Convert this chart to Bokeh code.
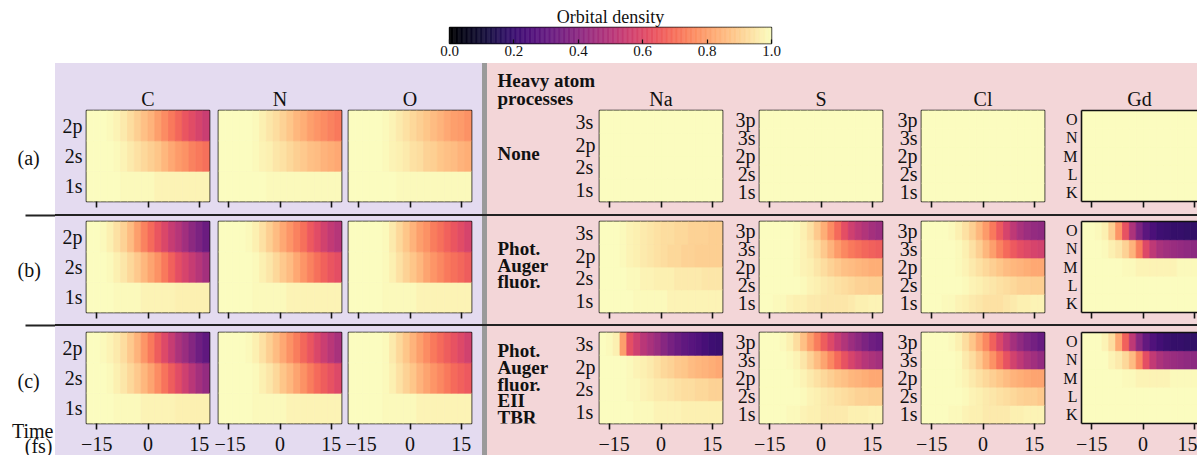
import numpy as np
from bokeh.plotting import figure
from bokeh.models import (Range1d, FixedTicker, LinearColorMapper, Label, Spacer,
                          ColumnDataSource, LinearAxis, PrintfTickFormatter, BoxAnnotation)
from bokeh.layouts import row, column
from bokeh.palettes import Magma256
from bokeh.embed import file_html
from bokeh.resources import INLINE

# ---------------- data ----------------
time_edges = [-18, -16, -14, -12, -10, -8, -6, -4, -2, 0, 2, 4, 6, 8, 10, 12, 14, 16, 18]
x_ticks = [-15, 0, 15]
x_tick_labels = {-15: "\u221215", 0: "0", 15: "15"}
cbar_ticks = [0.0, 0.2, 0.4, 0.6, 0.8, 1.0]

light_orbitals = ["1s", "2s", "2p"]
na_orbitals = ["1s", "2s", "2p", "3s"]
scl_orbitals = ["1s", "2s", "2p", "3s", "3p"]
gd_shells = ["K", "L", "M", "N", "O"]

light_atoms = ["C", "N", "O"]
heavy_atoms = ["Na", "S", "Cl", "Gd"]
row_tags = ["(a)", "(b)", "(c)"]
process_labels = [["None"], ["Phot.", "Auger", "fluor."], ["Phot.", "Auger", "fluor.", "EII", "TBR"]]

ONE = [1.00, 1.00, 1.00, 1.00, 1.00, 1.00, 1.00, 1.00, 1.00, 1.00, 1.00, 1.00, 1.00, 1.00, 1.00, 1.00, 1.00, 1.00]

# row (a)
C_a = [[1.00, 1.00, 1.00, 1.00, 1.00, 0.99, 0.99, 0.99, 0.99, 0.99, 0.98, 0.98, 0.98, 0.98, 0.98, 0.98, 0.98, 0.98],
       [1.00, 1.00, 1.00, 1.00, 0.99, 0.98, 0.96, 0.94, 0.92, 0.90, 0.88, 0.85, 0.82, 0.79, 0.77, 0.74, 0.72, 0.70],
       [1.00, 1.00, 1.00, 0.99, 0.98, 0.96, 0.93, 0.90, 0.87, 0.84, 0.80, 0.76, 0.72, 0.68, 0.64, 0.61, 0.58, 0.55]]
N_a = [[1.00, 1.00, 1.00, 1.00, 1.00, 1.00, 1.00, 0.99, 0.99, 0.99, 0.99, 0.99, 0.99, 0.99, 0.99, 0.99, 0.99, 0.99],
       [1.00, 1.00, 1.00, 1.00, 1.00, 0.99, 0.98, 0.97, 0.95, 0.94, 0.92, 0.90, 0.89, 0.87, 0.86, 0.84, 0.83, 0.82],
       [1.00, 1.00, 1.00, 1.00, 1.00, 0.99, 0.97, 0.95, 0.93, 0.91, 0.88, 0.85, 0.83, 0.80, 0.78, 0.76, 0.74, 0.72]]
O_a = [[1.00, 1.00, 1.00, 1.00, 1.00, 1.00, 1.00, 0.99, 0.99, 0.99, 0.99, 0.99, 0.99, 0.99, 0.99, 0.99, 0.99, 0.99],
       [1.00, 1.00, 1.00, 1.00, 1.00, 0.99, 0.98, 0.97, 0.96, 0.94, 0.93, 0.91, 0.90, 0.88, 0.87, 0.86, 0.84, 0.83],
       [1.00, 1.00, 1.00, 1.00, 1.00, 0.99, 0.98, 0.96, 0.94, 0.92, 0.90, 0.88, 0.86, 0.84, 0.82, 0.80, 0.79, 0.77]]
Na_a = [ONE, ONE, ONE, ONE]
S_a = [ONE, ONE, ONE, ONE, ONE]
Cl_a = [ONE, ONE, ONE, ONE, ONE]
Gd_a = [ONE, ONE, ONE, ONE, ONE]

# row (b)
C_b = [[1.00, 1.00, 1.00, 1.00, 0.99, 0.99, 0.99, 0.99, 0.98, 0.98, 0.98, 0.98, 0.98, 0.97, 0.97, 0.97, 0.97, 0.97],
       [1.00, 1.00, 1.00, 0.99, 0.97, 0.95, 0.92, 0.89, 0.85, 0.81, 0.77, 0.72, 0.67, 0.62, 0.58, 0.54, 0.50, 0.46],
       [1.00, 1.00, 0.99, 0.97, 0.94, 0.91, 0.86, 0.80, 0.74, 0.69, 0.64, 0.59, 0.54, 0.50, 0.45, 0.40, 0.36, 0.32]]
N_b = [[1.00, 1.00, 1.00, 1.00, 1.00, 0.99, 0.99, 0.99, 0.99, 0.99, 0.98, 0.98, 0.98, 0.98, 0.98, 0.98, 0.98, 0.98],
       [1.00, 1.00, 1.00, 1.00, 1.00, 0.99, 0.97, 0.95, 0.92, 0.89, 0.86, 0.82, 0.78, 0.74, 0.70, 0.67, 0.64, 0.62],
       [1.00, 1.00, 1.00, 1.00, 0.99, 0.97, 0.94, 0.90, 0.86, 0.82, 0.78, 0.74, 0.70, 0.65, 0.61, 0.57, 0.53, 0.50]]
O_b = [[1.00, 1.00, 1.00, 1.00, 1.00, 0.99, 0.99, 0.99, 0.99, 0.99, 0.98, 0.98, 0.98, 0.98, 0.98, 0.98, 0.98, 0.98],
       [1.00, 1.00, 1.00, 1.00, 1.00, 0.99, 0.97, 0.94, 0.91, 0.88, 0.85, 0.81, 0.78, 0.75, 0.72, 0.70, 0.68, 0.66],
       [1.00, 1.00, 1.00, 1.00, 1.00, 0.99, 0.96, 0.92, 0.88, 0.84, 0.80, 0.77, 0.73, 0.70, 0.67, 0.64, 0.61, 0.58]]
Na_b = [[1.00, 1.00, 1.00, 1.00, 1.00, 0.99, 0.99, 0.99, 0.99, 0.99, 0.98, 0.98, 0.98, 0.98, 0.98, 0.98, 0.98, 0.98],
        [1.00, 1.00, 1.00, 1.00, 0.99, 0.99, 0.98, 0.98, 0.97, 0.97, 0.97, 0.96, 0.96, 0.96, 0.96, 0.95, 0.95, 0.95],
        [1.00, 1.00, 1.00, 0.99, 0.98, 0.97, 0.96, 0.95, 0.94, 0.93, 0.92, 0.92, 0.91, 0.91, 0.90, 0.90, 0.90, 0.90],
        [1.00, 1.00, 1.00, 0.99, 0.98, 0.97, 0.96, 0.95, 0.94, 0.93, 0.93, 0.92, 0.92, 0.91, 0.91, 0.91, 0.90, 0.90]]
S_b = [[1.00, 1.00, 0.99, 0.99, 0.98, 0.97, 0.97, 0.96, 0.96, 0.95, 0.95, 0.95, 0.95, 0.96, 0.97, 0.97, 0.98, 0.98],
       [1.00, 1.00, 1.00, 1.00, 1.00, 1.00, 0.99, 0.98, 0.97, 0.96, 0.95, 0.94, 0.93, 0.92, 0.91, 0.91, 0.90, 0.90],
       [1.00, 1.00, 1.00, 1.00, 1.00, 0.99, 0.98, 0.97, 0.95, 0.93, 0.91, 0.89, 0.87, 0.86, 0.85, 0.84, 0.83, 0.83],
       [1.00, 1.00, 1.00, 1.00, 1.00, 0.99, 0.98, 0.96, 0.93, 0.89, 0.84, 0.79, 0.75, 0.72, 0.70, 0.68, 0.67, 0.66],
       [1.00, 1.00, 1.00, 1.00, 1.00, 0.99, 0.97, 0.94, 0.89, 0.83, 0.76, 0.69, 0.62, 0.56, 0.52, 0.49, 0.46, 0.44]]
Cl_b = [[1.00, 1.00, 1.00, 0.99, 0.99, 0.98, 0.97, 0.96, 0.95, 0.94, 0.94, 0.94, 0.95, 0.96, 0.97, 0.97, 0.98, 0.98],
        [1.00, 1.00, 1.00, 1.00, 1.00, 1.00, 0.99, 0.98, 0.97, 0.96, 0.95, 0.94, 0.93, 0.92, 0.91, 0.91, 0.90, 0.90],
        [1.00, 1.00, 1.00, 1.00, 1.00, 0.99, 0.98, 0.96, 0.94, 0.92, 0.90, 0.88, 0.86, 0.85, 0.84, 0.83, 0.82, 0.82],
        [1.00, 1.00, 1.00, 1.00, 1.00, 0.99, 0.97, 0.94, 0.90, 0.85, 0.80, 0.74, 0.69, 0.65, 0.62, 0.60, 0.58, 0.57],
        [1.00, 1.00, 1.00, 1.00, 0.99, 0.97, 0.94, 0.90, 0.85, 0.79, 0.72, 0.65, 0.58, 0.52, 0.47, 0.44, 0.42, 0.41]]
Gd_b = [ONE,
        ONE,
        [1.00, 1.00, 1.00, 1.00, 1.00, 1.00, 0.99, 0.99, 0.98, 0.98, 0.98, 0.98, 0.98, 0.98, 0.99, 0.99, 0.99, 0.99],
        [1.00, 1.00, 1.00, 0.99, 0.97, 0.95, 0.91, 0.84, 0.73, 0.60, 0.52, 0.47, 0.45, 0.43, 0.42, 0.41, 0.40, 0.40],
        [1.00, 1.00, 0.99, 0.97, 0.90, 0.78, 0.63, 0.48, 0.36, 0.28, 0.24, 0.21, 0.20, 0.19, 0.19, 0.18, 0.18, 0.18]]

# row (c)
C_c = [[1.00, 1.00, 1.00, 1.00, 0.99, 0.99, 0.99, 0.99, 0.98, 0.98, 0.98, 0.98, 0.98, 0.97, 0.97, 0.97, 0.97, 0.97],
       [1.00, 1.00, 1.00, 0.99, 0.97, 0.95, 0.92, 0.89, 0.85, 0.81, 0.76, 0.71, 0.66, 0.61, 0.56, 0.51, 0.46, 0.42],
       [1.00, 1.00, 0.99, 0.98, 0.96, 0.93, 0.89, 0.84, 0.78, 0.72, 0.66, 0.60, 0.54, 0.48, 0.43, 0.38, 0.33, 0.29]]
N_c = [[1.00, 1.00, 1.00, 1.00, 1.00, 0.99, 0.99, 0.99, 0.99, 0.99, 0.98, 0.98, 0.98, 0.98, 0.98, 0.98, 0.98, 0.98],
       [1.00, 1.00, 1.00, 1.00, 1.00, 0.99, 0.97, 0.95, 0.92, 0.88, 0.85, 0.81, 0.77, 0.73, 0.69, 0.66, 0.63, 0.60],
       [1.00, 1.00, 1.00, 1.00, 0.99, 0.97, 0.94, 0.90, 0.86, 0.82, 0.77, 0.73, 0.68, 0.64, 0.59, 0.55, 0.51, 0.47]]
O_c = [[1.00, 1.00, 1.00, 1.00, 1.00, 0.99, 0.99, 0.99, 0.99, 0.99, 0.98, 0.98, 0.98, 0.98, 0.98, 0.98, 0.98, 0.98],
       [1.00, 1.00, 1.00, 1.00, 1.00, 0.99, 0.97, 0.94, 0.91, 0.88, 0.84, 0.81, 0.78, 0.75, 0.72, 0.69, 0.67, 0.65],
       [1.00, 1.00, 1.00, 1.00, 1.00, 0.99, 0.96, 0.92, 0.88, 0.84, 0.80, 0.76, 0.72, 0.69, 0.66, 0.63, 0.60, 0.57]]
Na_c = [[1.00, 1.00, 1.00, 1.00, 1.00, 0.99, 0.99, 0.99, 0.98, 0.98, 0.98, 0.98, 0.97, 0.97, 0.97, 0.97, 0.97, 0.97],
        [1.00, 1.00, 1.00, 1.00, 0.99, 0.99, 0.98, 0.97, 0.96, 0.96, 0.95, 0.94, 0.93, 0.93, 0.92, 0.92, 0.91, 0.91],
        [1.00, 1.00, 1.00, 1.00, 0.99, 0.98, 0.97, 0.96, 0.94, 0.92, 0.91, 0.89, 0.88, 0.86, 0.85, 0.84, 0.83, 0.82],
        [1.00, 0.99, 0.97, 0.80, 0.62, 0.56, 0.51, 0.47, 0.43, 0.39, 0.35, 0.32, 0.29, 0.27, 0.25, 0.23, 0.21, 0.20]]
S_c = [[1.00, 1.00, 1.00, 1.00, 0.99, 0.99, 0.98, 0.97, 0.97, 0.96, 0.96, 0.96, 0.96, 0.97, 0.97, 0.97, 0.98, 0.98],
       [1.00, 1.00, 1.00, 1.00, 1.00, 1.00, 0.99, 0.98, 0.97, 0.96, 0.95, 0.94, 0.93, 0.92, 0.91, 0.91, 0.90, 0.90],
       [1.00, 1.00, 1.00, 1.00, 1.00, 0.99, 0.98, 0.96, 0.94, 0.92, 0.90, 0.88, 0.87, 0.85, 0.84, 0.83, 0.82, 0.82],
       [1.00, 1.00, 1.00, 1.00, 0.99, 0.98, 0.95, 0.91, 0.86, 0.81, 0.75, 0.69, 0.63, 0.58, 0.54, 0.50, 0.48, 0.46],
       [1.00, 1.00, 1.00, 0.99, 0.97, 0.93, 0.87, 0.80, 0.73, 0.66, 0.60, 0.54, 0.49, 0.44, 0.40, 0.36, 0.33, 0.31]]
Cl_c = [[1.00, 1.00, 1.00, 1.00, 0.99, 0.99, 0.98, 0.97, 0.97, 0.96, 0.96, 0.96, 0.96, 0.97, 0.97, 0.98, 0.98, 0.98],
        [1.00, 1.00, 1.00, 1.00, 1.00, 1.00, 0.99, 0.98, 0.97, 0.96, 0.95, 0.94, 0.93, 0.92, 0.91, 0.90, 0.90, 0.89],
        [1.00, 1.00, 1.00, 1.00, 1.00, 0.99, 0.98, 0.96, 0.94, 0.92, 0.90, 0.88, 0.86, 0.84, 0.83, 0.82, 0.81, 0.81],
        [1.00, 1.00, 1.00, 1.00, 1.00, 0.99, 0.96, 0.93, 0.89, 0.83, 0.77, 0.70, 0.63, 0.57, 0.52, 0.48, 0.45, 0.42],
        [1.00, 1.00, 1.00, 1.00, 0.99, 0.97, 0.93, 0.88, 0.82, 0.75, 0.67, 0.59, 0.52, 0.46, 0.41, 0.37, 0.34, 0.31]]
Gd_c = [ONE,
        ONE,
        [1.00, 1.00, 1.00, 1.00, 1.00, 1.00, 0.99, 0.99, 0.98, 0.98, 0.98, 0.98, 0.98, 0.99, 0.99, 0.99, 0.99, 0.99],
        [1.00, 1.00, 1.00, 1.00, 0.98, 0.96, 0.92, 0.86, 0.75, 0.62, 0.53, 0.48, 0.45, 0.43, 0.42, 0.41, 0.40, 0.40],
        [1.00, 1.00, 1.00, 0.98, 0.93, 0.82, 0.67, 0.52, 0.39, 0.30, 0.25, 0.22, 0.20, 0.19, 0.19, 0.18, 0.18, 0.18]]

# ---------------- style ----------------
SERIF = "Liberation Serif"
INK = "#111111"
PURPLE = "#e4dbf0"
PINK = "#f3d6d8"
GREY = "#9a9a9a"
LINE = "#222222"

mapper = LinearColorMapper(palette=Magma256, low=0.0, high=1.0)

ROW_H = [151, 108, 129]
BORDER_TOP = [47, 5, 6]
BORDER_BOTTOM = [13, 12, 32]
# (width, left border, right border)
LIGHT_GEOM = [(159, 31, 5), (131, 4, 4), (137, 3, 11)]
HEAVY_GEOM = [(129, 1, 5), (160, 32, 5), (162, 34, 5), (148, 32, 0)]
LBL_GEOM = (111, 0, 23)


def base_fig(width, r, bl, br, bg, x_range, y_range):
    return figure(width=width, height=ROW_H[r], output_backend="svg", toolbar_location=None,
                  x_range=x_range, y_range=y_range,
                  min_border_left=bl, min_border_right=br,
                  min_border_top=BORDER_TOP[r], min_border_bottom=BORDER_BOTTOM[r],
                  border_fill_color=bg, background_fill_color=bg,
                  styles={"background-color": bg})


def style_orbital_axis(ax, orbitals, size):
    ax.ticker = FixedTicker(ticks=list(range(len(orbitals))))
    ax.major_label_overrides = {j: name for j, name in enumerate(orbitals)}
    ax.major_tick_out = 0
    ax.major_tick_in = 0
    ax.minor_tick_line_color = None
    ax.major_tick_line_color = None
    ax.axis_line_color = None
    ax.major_label_text_font = SERIF
    ax.major_label_text_font_size = size
    ax.major_label_text_color = INK


def heat(rows, orbitals, bg, geom, r, title=None, show_y=True, y_size="20px", gd=False):
    width, bl, br = geom
    x_end = time_edges[-1]
    if gd:
        frame_w = width - bl - br
        x_end = time_edges[0] + frame_w * (time_edges[-1] - time_edges[0]) / 123.0
    p = base_fig(width, r, bl, br, bg, Range1d(time_edges[0], x_end),
                 Range1d(-0.5, len(orbitals) - 0.5))
    lefts, rights, bots, tops, vals = [], [], [], [], []
    for j, series in enumerate(rows):
        for i, v in enumerate(series):
            lefts.append(time_edges[i])
            rights.append(time_edges[i + 1])
            bots.append(j - 0.5)
            tops.append(j + 0.5)
            vals.append(v)
    src = ColumnDataSource(dict(left=lefts, right=rights, bottom=bots, top=tops, v=vals))
    p.quad(left="left", right="right", bottom="bottom", top="top", source=src,
           fill_color={"field": "v", "transform": mapper},
           line_color={"field": "v", "transform": mapper}, line_width=0.8)
    p.grid.visible = False

    xa = p.xaxis[0]
    xa.ticker = FixedTicker(ticks=x_ticks)
    xa.major_tick_out = 6
    xa.major_tick_in = 0
    xa.minor_tick_line_color = None
    xa.major_tick_line_color = INK
    xa.major_tick_line_width = 1.6
    xa.axis_line_color = None
    if r == 2:
        xa.major_label_overrides = x_tick_labels
        xa.major_label_text_font = SERIF
        xa.major_label_text_font_size = "20px"
        xa.major_label_text_color = INK
        xa.major_label_standoff = 7
    else:
        xa.major_label_text_font_size = "0px"
        xa.major_label_text_color = None
        xa.major_label_standoff = 0

    ya = p.yaxis[0]
    if show_y:
        style_orbital_axis(ya, orbitals, y_size)
        ya.major_label_standoff = 4
    else:
        ya.visible = False

    if gd:
        p.outline_line_color = None
        xa.axis_line_color = INK
        xa.axis_line_width = 1.6
        ya.axis_line_color = INK
        ya.axis_line_width = 1.6
        top_ax = LinearAxis(ticker=FixedTicker(ticks=[]), major_label_text_font_size="0px",
                            major_label_text_color=None,
                            major_label_standoff=0, major_tick_out=0, major_tick_in=0,
                            minor_tick_out=0, minor_tick_in=0,
                            axis_line_color=INK, axis_line_width=1.6)
        p.add_layout(top_ax, "above")
    else:
        p.outline_line_color = INK
        p.outline_line_width = 1.6

    if title is not None:
        p.title.text = title
        p.title.align = "center"
        p.title.text_font = SERIF
        p.title.text_font_size = "20px"
        p.title.text_font_style = "normal"
        p.title.text_color = INK
        p.title.standoff = 2
    return p


def add_text(p, x, y, text, size="20px", bold=False, align="left"):
    p.add_layout(Label(x=x, y=y, x_units="screen", y_units="screen", text=text,
                       text_font=SERIF, text_font_size=size,
                       text_font_style="bold" if bold else "normal",
                       text_color=INK, text_align=align, text_baseline="middle"))


# ---------------- colour bar ----------------
n_pal = len(Magma256)
cb = figure(width=1197, height=63, output_backend="svg", toolbar_location=None,
            x_range=Range1d(0, 1), y_range=Range1d(0, 1),
            min_border_left=449, min_border_right=426, min_border_top=27, min_border_bottom=20,
            background_fill_color="white", border_fill_color="white")
cb.quad(left=[i / n_pal for i in range(n_pal)], right=[(i + 1) / n_pal for i in range(n_pal)],
        bottom=0, top=1, fill_color=list(Magma256), line_color=list(Magma256), line_width=0.5)
cb.grid.visible = False
cb.yaxis.visible = False
cxa = cb.xaxis[0]
cxa.ticker = FixedTicker(ticks=cbar_ticks)
cxa.formatter = PrintfTickFormatter(format="%.1f")
cxa.major_tick_in = 4
cxa.major_tick_out = 0
cxa.major_tick_line_color = INK
cxa.major_tick_line_width = 1.2
cxa.minor_tick_line_color = None
cxa.axis_line_color = None
cxa.major_label_text_font = SERIF
cxa.major_label_text_font_size = "15px"
cxa.major_label_text_color = INK
cxa.major_label_standoff = 2
cb.outline_line_color = INK
cb.outline_line_width = 1.4
cb.title.text = "Orbital density"
cb.title.align = "center"
cb.title.text_font = SERIF
cb.title.text_font_size = "18px"
cb.title.text_font_style = "normal"
cb.title.text_color = INK
cb.title.standoff = 1

# ---------------- left white column (row tags, time label) ----------------
LEFT_H = sum(ROW_H) + 4
left = figure(width=55, height=LEFT_H, output_backend="svg", toolbar_location=None,
              min_border=0, x_range=Range1d(0, 55), y_range=Range1d(0, LEFT_H),
              background_fill_color="white", border_fill_color="white", outline_line_color=None)
left.axis.visible = False
left.grid.visible = False
tag_y = [297.5, 186, 75]
for tag, yy in zip(row_tags, tag_y):
    add_text(left, 17, yy, tag)
add_text(left, 53, 24.5, "Time", align="right")
add_text(left, 52, 10, "(fs)", align="right")
sep_bottoms = [ROW_H[2] + ROW_H[1] + 2, ROW_H[2]]
for sb in sep_bottoms:
    left.add_layout(BoxAnnotation(left=25, right=55, bottom=sb, top=sb + 2,
                                  fill_color=LINE, fill_alpha=1.0, line_color=None))

# ---------------- panel rows ----------------
light_data = [[C_a, N_a, O_a], [C_b, N_b, O_b], [C_c, N_c, O_c]]
heavy_data = [[Na_a, S_a, Cl_a, Gd_a], [Na_b, S_b, Cl_b, Gd_b], [Na_c, S_c, Cl_c, Gd_c]]
heavy_orbs = [na_orbitals, scl_orbitals, scl_orbitals, gd_shells]

proc_y = [[47.7], [64.3, 47.5, 31], [72.6, 56, 39.3, 22.6, 6.5]]

rows_out = []
for r in range(3):
    figs = []
    for k, atom in enumerate(light_atoms):
        figs.append(heat(light_data[r][k], light_orbitals, PURPLE, LIGHT_GEOM[k], r,
                         title=atom if r == 0 else None, show_y=(k == 0)))
    figs.append(Spacer(width=5, height=ROW_H[r], styles={"background-color": GREY}))

    # process labels + Na orbital labels
    w, bl, br = LBL_GEOM
    lab = base_fig(w, r, bl, br, PINK, Range1d(0, 1), Range1d(-0.5, len(na_orbitals) - 0.5))
    lab.outline_line_color = None
    lab.grid.visible = False
    lab.xaxis.visible = False
    lab.yaxis.visible = False
    rax = LinearAxis()
    style_orbital_axis(rax, na_orbitals, "20px")
    rax.major_label_standoff = 1
    lab.add_layout(rax, "right")
    if r == 0:
        lab.title.text = "Heavy atom\nprocesses"
        lab.title.align = "left"
        lab.title.offset = 10
        lab.title.text_font = SERIF
        lab.title.text_font_size = "19px"
        lab.title.text_font_style = "bold"
        lab.title.text_color = INK
        lab.title.text_line_height = 0.85
        lab.title.standoff = 3
    for txt, yy in zip(process_labels[r], proc_y[r]):
        add_text(lab, 10, yy, txt, size="19px", bold=True)
    figs.append(lab)

    for k, atom in enumerate(heavy_atoms):
        figs.append(heat(heavy_data[r][k], heavy_orbs[k], PINK, HEAVY_GEOM[k], r,
                         title=atom if r == 0 else None, show_y=(atom != "Na"),
                         y_size="16px" if atom == "Gd" else "20px", gd=(atom == "Gd")))
    rows_out.append(row(*figs, spacing=0))


def separator():
    return Spacer(width=1142, height=2, styles={"background-color": LINE})


right_part = column(rows_out[0], separator(), rows_out[1], separator(), rows_out[2], spacing=0)
layout = column(cb, row(left, right_part, spacing=0), spacing=0)

open("out.html", "w").write(file_html(layout, INLINE))
